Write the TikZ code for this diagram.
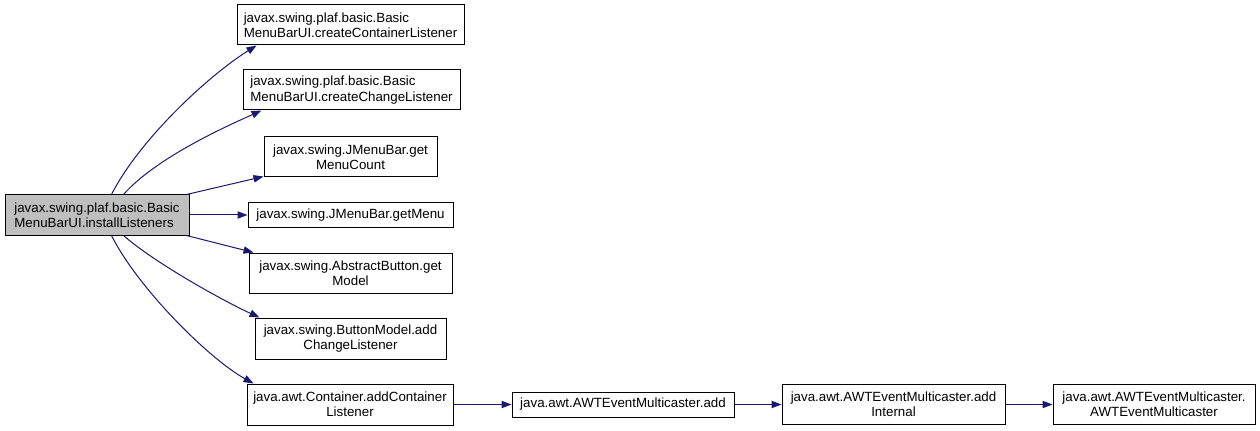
\documentclass[tikz,border=0pt]{standalone}
\usepackage{fontspec}
\setmainfont{Liberation Sans}
\usetikzlibrary{arrows.meta,calc}
\definecolor{edgeblue}{HTML}{191970}
\definecolor{selgray}{HTML}{BFBFBF}
\tikzset{
  box/.style={draw=black, line width=0.75pt, fill=white, inner sep=0pt, font=\fontsize{10}{11.5}\selectfont, align=center},
  lbox/.style={box, align=left},
  edge/.style={draw=edgeblue, line width=0.75pt, -{Triangle[length=7.5pt,width=5.5pt]}}
}
\begin{document}
\begin{tikzpicture}[x=0.75pt,y=-0.75pt]
\useasboundingbox (0,0) rectangle (1260,431);
% nodes
\node[lbox, fill=selgray, minimum width=138pt, minimum height=30pt] (A) at (97,215) {javax.swing.plaf.basic.Basic\\MenuBarUI.installListeners};
\node[lbox, minimum width=170.25pt, minimum height=30pt] (B1) at (350.5,25) {javax.swing.plaf.basic.Basic\\MenuBarUI.createContainerListener};
\node[lbox, minimum width=162.75pt, minimum height=30pt] (B2) at (351.5,90) {javax.swing.plaf.basic.Basic\\MenuBarUI.createChangeListener};
\node[box, minimum width=129.75pt, minimum height=30pt] (B3) at (350.5,157) {javax.swing.JMenuBar.get\\MenuCount};
\node[box, minimum width=153.75pt, minimum height=18.75pt] (B4) at (350.5,215) {javax.swing.JMenuBar.getMenu};
\node[box, minimum width=152.25pt, minimum height=30pt] (B5) at (350.5,273) {javax.swing.AbstractButton.get\\Model};
\node[box, minimum width=143.25pt, minimum height=30.75pt] (B6) at (350.5,338.5) {javax.swing.ButtonModel.add\\ChangeListener};
\node[box, minimum width=154.5pt, minimum height=30.75pt] (B7) at (350,404.5) {java.awt.Container.addContainer\\Listener};
\node[box, minimum width=166.5pt, minimum height=18.75pt] (C) at (623,404.5) {java.awt.AWTEventMulticaster.add};
\node[box, minimum width=167.25pt, minimum height=30pt] (D) at (893.5,404.5) {java.awt.AWTEventMulticaster.add\\Internal};
\node[box, minimum width=151.5pt, minimum height=30pt] (E) at (1154,404.5) {java.awt.AWTEventMulticaster.\\AWTEventMulticaster};
% edges
\draw[edge] ($(A.north west)+(107,0)$) .. controls +(28,-55) and +(-48,30) .. ($(B1.south west)+(20,0)$);
\draw[edge] ($(A.north west)+(119,0)$) .. controls +(32,-36) and +(-40,18) .. ($(B2.south west)+(19,0)$);
\draw[edge] ($(A.north east)+(-3,0)$) -- ($(B3.south west)+(0,-1)$);
\draw[edge] (A.east) -- (B4.west);
\draw[edge] ($(A.south east)+(-3,0)$) -- ($(B5.north west)+(5,0)$);
\draw[edge] ($(A.south west)+(119,0)$) .. controls +(32,28) and +(-35,-16) .. ($(B6.north west)+(5,0)$);
\draw[edge] ($(A.south west)+(107,0)$) .. controls +(26,52) and +(-45,-25) .. ($(B7.north west)+(7,0)$);
\draw[edge] (B7.east) -- (C.west);
\draw[edge] (C.east) -- (D.west);
\draw[edge] (D.east) -- (E.west);
\end{tikzpicture}
\end{document}
